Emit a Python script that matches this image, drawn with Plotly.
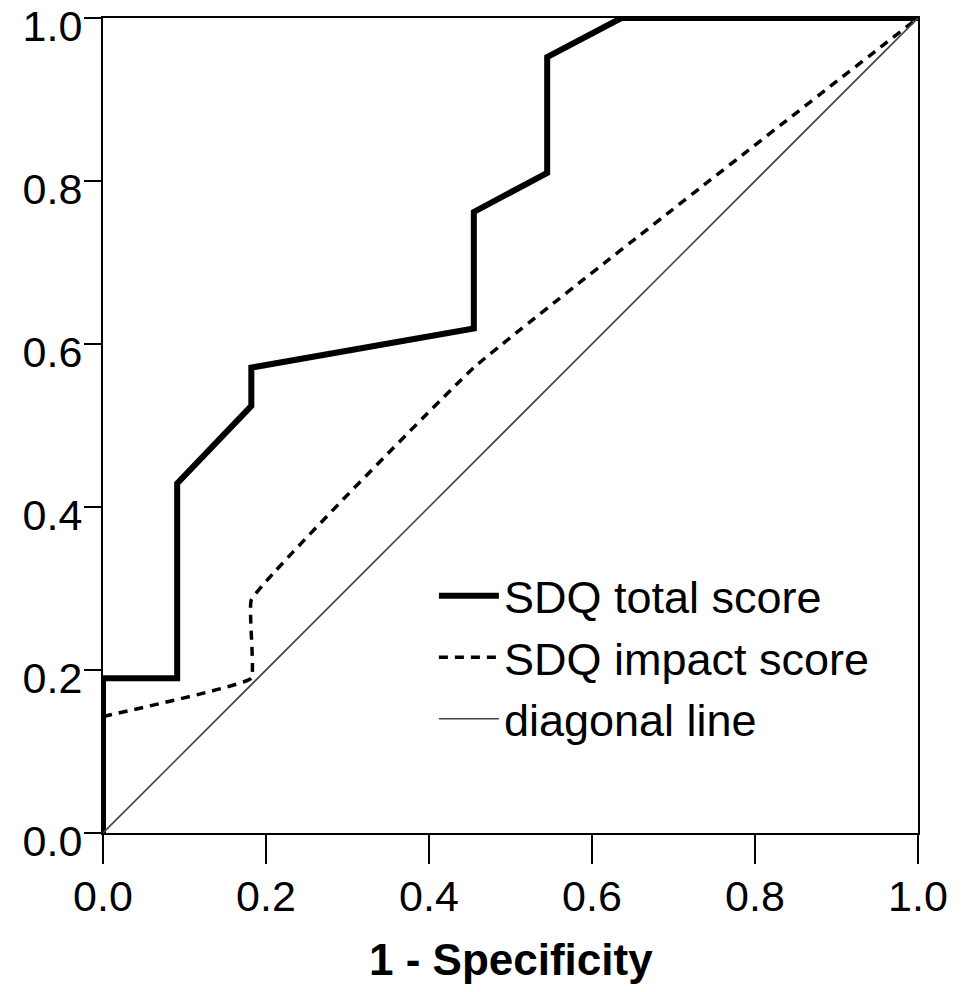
import plotly.graph_objects as go

# ROC data
total_x = [0.0, 0.0, 0.091, 0.091, 0.182, 0.182, 0.455, 0.455, 0.545, 0.545, 0.636, 1.0]
total_y = [0.0, 0.19, 0.19, 0.429, 0.524, 0.571, 0.619, 0.762, 0.81, 0.952, 1.0, 1.0]

impact_x = [0.0, 0.182, 0.182, 0.455, 1.0]
impact_y = [0.143, 0.19, 0.286, 0.571, 1.0]

diag_x = [0.0, 1.0]
diag_y = [0.0, 1.0]

tick_vals = [0.0, 0.2, 0.4, 0.6, 0.8, 1.0]
tick_text = ["0.0", "0.2", "0.4", "0.6", "0.8", "1.0"]

x_title = "1 - Specificity"

FONT = "Liberation Sans, Arial, sans-serif"

fig = go.Figure()
fig.add_trace(go.Scatter(x=total_x, y=total_y, mode="lines", name="SDQ total score",
                         line=dict(color="black", width=6), cliponaxis=False))
fig.add_trace(go.Scatter(x=impact_x, y=impact_y, mode="lines", name="SDQ impact score",
                         line=dict(color="black", width=3.5, dash="9px,7px", shape="spline", smoothing=0.25),
                         cliponaxis=False))
fig.add_trace(go.Scatter(x=diag_x, y=diag_y, mode="lines", name="diagonal line",
                         line=dict(color="#444444", width=1.6), cliponaxis=False))

fig.update_layout(
    width=953, height=976,
    margin=dict(l=95, r=43, t=10, b=151),
    paper_bgcolor="white", plot_bgcolor="white",
    font=dict(family=FONT, color="black", size=43),
    showlegend=True,
    legend=dict(x=0.406, y=0.335, xanchor="left", yanchor="top",
                font=dict(size=45, family=FONT), bgcolor="rgba(0,0,0,0)",
                tracegroupgap=0, itemwidth=60),
    annotations=[dict(text="<b>" + x_title + "</b>", xref="paper", yref="paper",
                      x=0.5, y=0, xanchor="center", yanchor="top", yshift=-100,
                      showarrow=False, font=dict(size=44, family=FONT, color="black"))],
)
fig.update_xaxes(range=[0, 1], tickvals=tick_vals, ticktext=tick_text, automargin=False,
                 showgrid=False, zeroline=False, showline=True, linecolor="black", linewidth=2,
                 mirror=True, ticks="outside", ticklen=29, tickwidth=2, tickcolor="black",
                 tickfont=dict(size=43, family=FONT), ticklabeloverflow="allow",
                 ticklabelstandoff=-5)
fig.update_yaxes(range=[0, 1], tickvals=tick_vals, ticktext=tick_text, automargin=False,
                 showgrid=False, zeroline=False, showline=True, linecolor="black", linewidth=2,
                 mirror=True, ticks="outside", ticklen=17, tickwidth=2, tickcolor="black",
                 tickfont=dict(size=43, family=FONT), ticklabeloverflow="allow",
                 ticklabelstandoff=-7, ticklabelshift=8)

fig.write_html("out.html")
